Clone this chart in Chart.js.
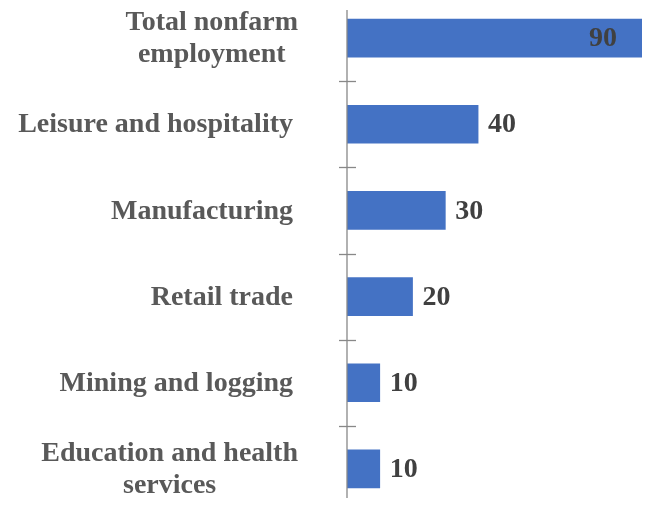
<!DOCTYPE html>
<html>
<head>
<meta charset="utf-8">
<script src="https://cdn.jsdelivr.net/npm/chart.js@4/dist/chart.umd.min.js"></script>
<style>
  html, body { margin: 0; padding: 0; background: #fff; overflow: hidden; }
  #wrap { position: absolute; left: 0; top: -5px; width: 649px; height: 517px; }
</style>
</head>
<body>
<div id="wrap"><canvas id="c" width="649" height="517"></canvas></div>
<script>
const categories = [
  ["Total nonfarm", "employment"],
  ["Leisure and hospitality"],
  ["Manufacturing"],
  ["Retail trade"],
  ["Mining and logging"],
  ["Education and health", "services"]
];
const values = [90, 40, 30, 20, 10, 10];
const valueLabels = ["90", "40", "30", "20", "10", "10"];

const FONT = 'bold 28px "Liberation Serif", "Times New Roman", serif';

const decor = {
  id: 'decor',
  afterDraw(chart) {
    const ctx = chart.ctx;
    const y = chart.scales.y;
    const area = chart.chartArea;
    const axisX = area.left;
    ctx.save();
    // axis line
    ctx.strokeStyle = '#888888';
    ctx.lineWidth = 1.3;
    ctx.beginPath();
    ctx.moveTo(axisX, 15);
    ctx.lineTo(axisX, 503);
    ctx.stroke();
    // tick marks at category boundaries
    for (let i = 1; i < categories.length; i++) {
      const p = (y.getPixelForValue(i - 1) + y.getPixelForValue(i)) / 2;
      ctx.beginPath();
      ctx.moveTo(axisX - 8, Math.round(p) + 0.5);
      ctx.lineTo(axisX + 9, Math.round(p) + 0.5);
      ctx.stroke();
    }
    // category labels
    ctx.font = FONT;
    ctx.fillStyle = '#595959';
    ctx.textBaseline = 'middle';
    ctx.textAlign = 'center';
    const lh = 32;
    categories.forEach((lines, i) => {
      const right = lines.length > 1 ? 298 : 293;
      const cy = y.getPixelForValue(i);
      const w = Math.max(...lines.map(l => ctx.measureText(l).width));
      const cx = right - w / 2;
      const y0 = cy - (lines.length - 1) * lh / 2;
      lines.forEach((l, k) => ctx.fillText(l, cx, y0 + k * lh + 1));
    });
    // value labels
    ctx.fillStyle = '#404040';
    const meta = chart.getDatasetMeta(0);
    meta.data.forEach((bar, i) => {
      const t = valueLabels[i];
      const tw = ctx.measureText(t).width;
      if (bar.x + 10 + tw > chart.width) {
        ctx.textAlign = 'right';
        ctx.fillText(t, bar.x - 25, bar.y + 1);
      } else {
        ctx.textAlign = 'left';
        ctx.fillText(t, bar.x + 10, bar.y + 1);
      }
    });
    ctx.restore();
  }
};

new Chart(document.getElementById('c'), {
  type: 'bar',
  data: {
    labels: categories,
    datasets: [{
      data: values,
      backgroundColor: '#4472C4',
      borderWidth: 0,
      barThickness: 38
    }]
  },
  options: {
    indexAxis: 'y',
    responsive: false,
    animation: false,
    layout: { padding: { left: 347, right: 7, top: 0, bottom: 0 } },
    plugins: { legend: { display: false }, tooltip: { enabled: false } },
    scales: {
      x: { display: false, min: 0, max: 90 },
      y: { display: false, offset: true }
    }
  },
  plugins: [decor]
});
</script>
</body>
</html>
